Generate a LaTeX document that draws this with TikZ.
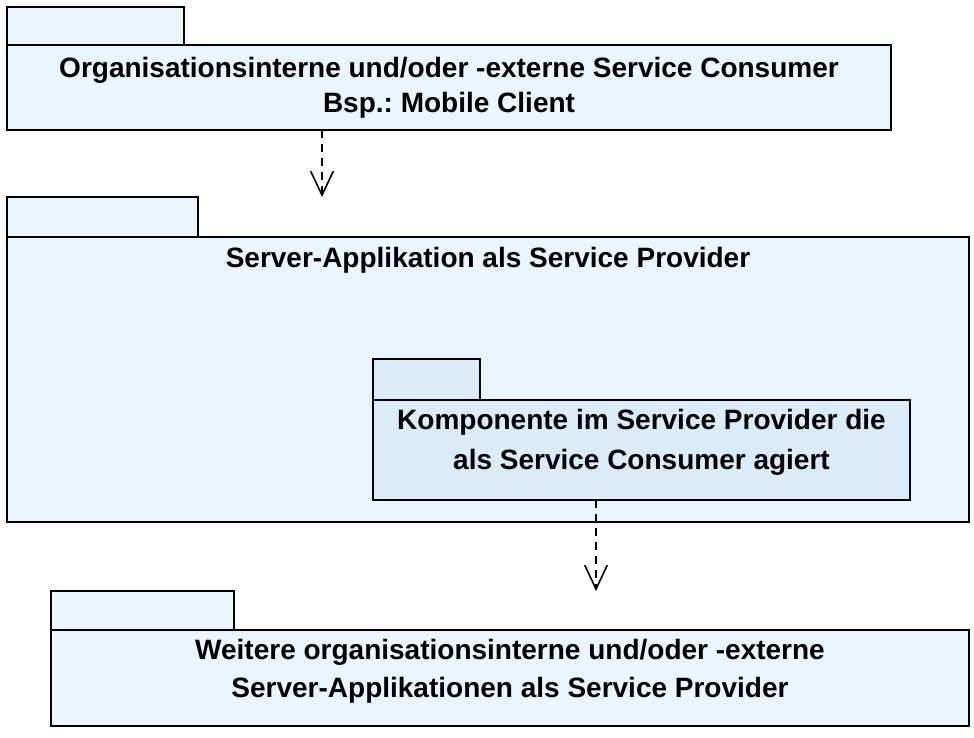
\documentclass[tikz,border=0pt]{standalone}
\usepackage{fontspec}
\setmainfont{Liberation Sans}
\usetikzlibrary{positioning}
\usetikzlibrary{arrows.meta}
\definecolor{pkgfill}{HTML}{EBF5FD}
\definecolor{innerfill}{HTML}{DAECFA}
\frenchspacing
\tikzset{
	package/.style={
		draw, line width=1.3pt, fill=pkgfill, inner sep=0pt, outer sep=0pt
	},
	pkgbody/.style={
		package, anchor=north west
	},
	pkgtab/.style={
		package
	},
	pkgtext/.style={
		font=\bfseries\fontsize{21}{26.25}\selectfont, align=center, inner sep=0pt
	},
	dependency/.style={
		line width=1.2pt, dash pattern=on 6pt off 4.5pt,
		-{Straight Barb[length=18pt,width=17pt,line width=1.2pt]}
	}
}
\begin{document}
\begin{tikzpicture}[x=0.75pt, y=-0.75pt]
    \useasboundingbox (0,0) rectangle (974,738);

    % consumer
    \node [pkgbody, minimum width=663pt, minimum height=63.75pt] (consumer) at (7,45) {};
    \node [pkgtab, above right=0pt and 0pt of consumer.north west, anchor=south west,
        minimum width=132.75pt, minimum height=28.5pt] (consumer-tab) {};
    \node [pkgtext] (consumer-text) at (consumer.center)
        {Organisationsinterne und/oder -externe Service Consumer\\Bsp.: Mobile Client};

    % server
    \node [pkgbody, minimum width=721.5pt, minimum height=213.75pt] (server) at (7,237) {};
    \node [pkgtab, anchor=south west, minimum width=143.25pt, minimum height=30pt]
        (server-tab) at (server.north west) {};
    \node [pkgtext, below=7.5pt of server.north] (server-text) {Server-Applikation als Service Provider};

    % component
    \node [pkgbody, fill=innerfill, minimum width=402.75pt, minimum height=75pt] (component) at (373,400) {};
    \node [pkgtab, fill=innerfill, anchor=south west, minimum width=80.25pt, minimum height=30.75pt]
        (component-tab) at (component.north west) {};
    \node [pkgtext, yshift=6pt, font=\bfseries\fontsize{21}{30}\selectfont] (component-text) at (component.center)
        {Komponente im Service Provider die\\als Service Consumer agiert};

    % providers
    \node [pkgbody, minimum width=688.5pt, minimum height=72pt] (providers) at (51,630) {};
    \node [pkgtab, anchor=south west, minimum width=137.25pt, minimum height=29.25pt]
        (providers-tab) at (providers.north west) {};
    \node [pkgtext, yshift=5pt, font=\bfseries\fontsize{21}{28.5}\selectfont] (providers-text) at (providers.center)
        {Weitere organisationsinterne und/oder -externe\\Server-Applikationen als Service Provider};

    \coordinate (consumer-out) at (consumer.south west -| 322,0);
    \coordinate (component-out) at (component.south west -| 596,0);
    \draw [dependency] (consumer-out) -- (consumer-out |- server-tab.north);
    \draw [dependency] (component-out) -- (component-out |- providers-tab.north);
\end{tikzpicture}
\end{document}
